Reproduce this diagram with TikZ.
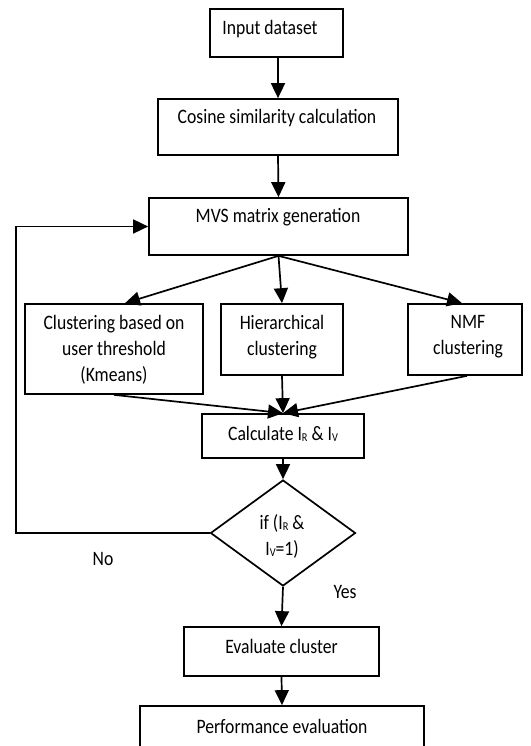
\documentclass[tikz,border=0pt]{standalone}
\usepackage{fontspec}
\setmainfont[FakeStretch=0.86]{Carlito}
\usetikzlibrary{shapes.geometric,arrows.meta}
\newcommand{\subR}[1]{\raisebox{-1.5pt}{\fontsize{12}{12}\selectfont #1}}
\begin{document}
\begin{tikzpicture}[x=1pt,y=-1pt,
  box/.style={draw,line width=1.7pt,inner sep=0pt,minimum width=#1},
  lbl/.style={font=\fontsize{20.5}{26}\selectfont,align=center,inner sep=0pt},
  conn/.style={line width=1.7pt,-{Triangle[length=15pt,width=14pt]}}]
\useasboundingbox (0,0) rectangle (530,746);
\clip (0,0) rectangle (530,746);
% boxes
\node[box=133pt,minimum height=48pt] (inp) at (276.5,33) {};
\node[lbl] (tinp) at (270,29) {Input dataset};
\node[box=240pt,minimum height=56pt] (cos) at (278,127) {};
\node[lbl] (tcos) at (277,118) {Cosine similarity calculation};
\node[box=259pt,minimum height=57pt] (mvs) at (278.5,226.5) {};
\node[lbl] (tmvs) at (278,217) {MVS matrix generation};
\node[box=178pt,minimum height=90pt] (km) at (114,349) {};
\node[lbl] (tkm) at (114,350) {Clustering based on\\user threshold\\(Kmeans)};
\node[box=122pt,minimum height=71pt] (hier) at (282,339.5) {};
\node[lbl] (thier) at (282,337) {Hierarchical\\clustering};
\node[box=114pt,minimum height=71pt] (nmf) at (465,339.5) {};
\node[lbl] (tnmf) at (468,337) {NMF\\clustering};
\node[box=162pt,minimum height=44pt] (calc) at (283,436) {};
\node[lbl] (tcalc) at (283,434) {Calculate I\subR{R} \& I\subR{V}};
\node[draw,diamond,line width=1.7pt,inner sep=0pt,minimum width=145pt,minimum height=106pt] (dia) at (283,533) {};
\node[lbl] (tdia) at (282,536) {if (I\subR{R} \&\\I\subR{V}=1)};
\node[box=195pt,minimum height=49pt] (eval) at (281.5,651.5) {};
\node[lbl] (teval) at (281.5,646) {Evaluate cluster};
\node[box=284pt,minimum height=70pt] (perf) at (282,741) {};
\node[lbl] (tperf) at (282,726) {Performance evaluation};
% labels
\node[lbl] (no) at (103,559) {No};
\node[lbl] (yes) at (345,592) {Yes};
% connectors
\draw[conn] (inp.south -| cos.north) -- (cos.north);
\draw[conn] (cos.south) -- (mvs.north);
\draw[conn] (mvs.south) -- ([xshift=11pt]km.north);
\draw[conn] (mvs.south) -- (hier.north);
\draw[conn] (mvs.south) -- ([xshift=-3pt]nmf.north);
\draw[conn] (km.south) -- (calc.north);
\draw[conn] (hier.south) -- (calc.north);
\draw[conn] ([xshift=2pt]nmf.south) -- (calc.north);
\draw[conn] (calc.south) -- (dia.north);
\coordinate (fb) at (16,533);
\draw[conn] (dia.west) -- (fb) |- (mvs.west);
\draw[conn] (dia.south) -- (eval.north);
\draw[conn] (eval.south) -- (perf.north);
\end{tikzpicture}
\end{document}
